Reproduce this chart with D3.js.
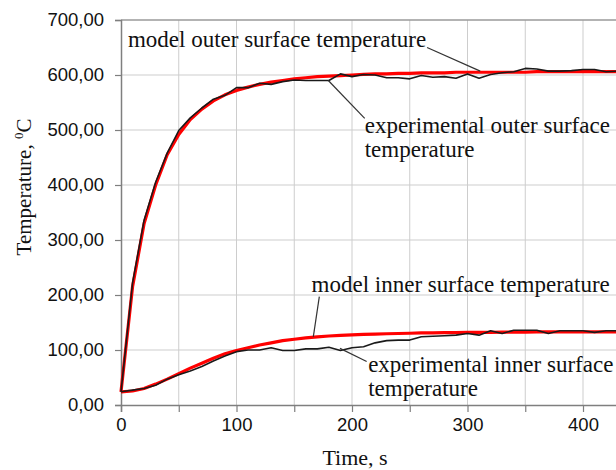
<!DOCTYPE html>
<html>

<head>
	<meta charset="utf-8">
	<title>Temperature vs time</title>
	<style>
		body {
			margin: 0;
			background: #fff;
		}

		.tick-label {
			font-family: "Liberation Sans", Arial, sans-serif;
			font-size: 18.5px;
			fill: #111;
		}

		.serif {
			font-family: "Liberation Serif", "Times New Roman", serif;
			fill: #111;
		}
	</style>
</head>

<body>
	<svg id="chart" width="616" height="470"></svg>

	<script src="https://cdn.jsdelivr.net/npm/d3@7/dist/d3.min.js"></script>
	<script>
		// time axis, s (every 10 s)
		var time = [0, 10, 20, 30, 40, 50, 60, 70, 80, 90, 100, 110, 120, 130, 140, 150, 160, 170, 180, 190,
			200, 210, 220, 230, 240, 250, 260, 270, 280, 290, 300, 310, 320, 330, 340, 350, 360, 370, 380, 390,
			400, 410, 420, 430];

		var modelOuter = [24, 215, 330, 400, 455, 492, 519, 538, 553, 564, 572, 578, 583, 587, 590, 593, 595, 597, 598, 599,
			600, 601, 602, 602, 603, 603, 604, 604, 604, 605, 605, 605, 605, 605, 605, 605, 606, 606, 606, 606,
			606, 606, 606, 606];

		var expOuter = [24, 222, 336, 405, 458, 499, 522, 540, 556, 563, 577, 577, 585, 583, 588, 591, 590, 590, 590, 602,
			597, 601, 600, 595, 595, 593, 599, 596, 597, 594, 602, 594, 601, 604, 606, 612, 611, 607, 607, 608,
			610, 610, 606, 607];

		var modelInner = [24, 25.5, 30, 38, 47, 57, 67, 76, 85, 93, 99, 104, 109, 113, 117, 119.5, 122, 124, 125.5, 126.7,
			127.5, 128.5, 129, 129.5, 130, 130.5, 131, 131, 131.5, 131.5, 132, 132, 132, 132.5, 132.5, 132.5, 133, 133, 133, 133,
			133, 133, 133, 133];

		var expInner = [24, 27, 30, 36, 47, 55, 62, 70, 80, 89, 97, 100, 100, 104, 99, 99, 102, 102, 105, 99,
			104, 106, 113, 117, 118, 118, 124, 125, 126, 127, 130, 127, 135, 130, 136, 136, 136, 130, 135, 135,
			135, 132, 135, 135];

		var yTicks = [0, 100, 200, 300, 400, 500, 600, 700];
		var xLabelTicks = [0, 100, 200, 300, 400];
		var xGridTicks = [0, 50, 100, 150, 200, 250, 300, 350, 400, 450];

		// annotations: text lines (t, T of first baseline) and leader line ends in data units
		var notes = [
			{ lines: ['model outer surface temperature'], t: 6, T: 651, from: [265, 650], to: [311, 607] },
			{ lines: ['experimental outer surface', 'temperature'], t: 211, T: 495, from: [179.5, 590], to: [211, 521] },
			{ lines: ['model inner surface temperature'], t: 165, T: 206, from: [171.7, 197], to: [166.5, 124] },
			{ lines: ['experimental inner surface', 'temperature'], t: 214, T: 60.5, from: [189.6, 103], to: [212.7, 79] }
		];

		var svg = d3.select('#chart');

		var x = d3.scaleLinear().domain([0, 450]).range([121, 640.75]);
		var y = d3.scaleLinear().domain([0, 700]).range([405, 20]);

		// grid
		svg.append('g')
			.selectAll('line')
			.data(xGridTicks.slice(1))
			.enter()
			.append('line')
			.attr('x1', function (d) { return x(d); })
			.attr('x2', function (d) { return x(d); })
			.attr('y1', y(700))
			.attr('y2', y(0))
			.style('stroke', '#cdcdcd')
			.style('stroke-width', 1);

		svg.append('g')
			.selectAll('line')
			.data(yTicks.slice(1, -1))
			.enter()
			.append('line')
			.attr('x1', x(0))
			.attr('x2', x(450))
			.attr('y1', function (d) { return y(d); })
			.attr('y2', function (d) { return y(d); })
			.style('stroke', '#cdcdcd')
			.style('stroke-width', 1);

		// top frame line
		svg.append('line')
			.attr('x1', x(0)).attr('x2', x(450))
			.attr('y1', y(700)).attr('y2', y(700))
			.style('stroke', '#9a9a9a')
			.style('stroke-width', 1.5);

		// axes
		var yAxis = d3.axisLeft(y)
			.tickValues(yTicks)
			.tickSize(6)
			.tickPadding(11)
			.tickFormat(function (d) { return d3.format('.2f')(d).replace('.', ','); });

		var gy = svg.append('g')
			.attr('transform', 'translate(' + x(0) + ',0)')
			.call(yAxis);

		var xAxis = d3.axisBottom(x)
			.tickValues(xGridTicks)
			.tickSize(7)
			.tickPadding(6)
			.tickFormat(function (d) { return xLabelTicks.indexOf(d) >= 0 ? d : ''; });

		var gx = svg.append('g')
			.attr('transform', 'translate(0,' + y(0) + ')')
			.call(xAxis);

		[gx, gy].forEach(function (g) {
			g.select('.domain').style('stroke', '#7f7f7f').style('stroke-width', 1.5);
			g.selectAll('.tick line').style('stroke', '#7f7f7f').style('stroke-width', 1.2);
			g.selectAll('.tick text').attr('class', 'tick-label').attr('fill', null);
		});

		// curves
		var line = d3.line()
			.x(function (d) { return x(d[0]); })
			.y(function (d) { return y(d[1]); });

		function pairs(values) {
			return time.map(function (t, i) { return [t, values[i]]; });
		}

		[modelOuter, modelInner].forEach(function (s) {
			svg.append('path')
				.datum(pairs(s))
				.attr('d', line)
				.style('fill', 'none')
				.style('stroke', '#ff0000')
				.style('stroke-width', 3.2)
				.style('stroke-linejoin', 'round');
		});

		[expOuter, expInner].forEach(function (s) {
			svg.append('path')
				.datum(pairs(s))
				.attr('d', line)
				.style('fill', 'none')
				.style('stroke', '#1a1a1a')
				.style('stroke-width', 1.6)
				.style('stroke-linejoin', 'round');
		});

		// annotations
		notes.forEach(function (n) {
			svg.append('line')
				.attr('x1', x(n.from[0])).attr('y1', y(n.from[1]))
				.attr('x2', x(n.to[0])).attr('y2', y(n.to[1]))
				.style('stroke', '#333')
				.style('stroke-width', 1.2);

			var txt = svg.append('text')
				.attr('class', 'serif')
				.attr('x', x(n.t))
				.attr('y', y(n.T))
				.style('font-size', '23px');

			n.lines.forEach(function (l, i) {
				txt.append('tspan')
					.attr('x', x(n.t))
					.attr('dy', i === 0 ? 0 : 24)
					.text(l);
			});
		});

		// axis titles
		var yt = svg.append('text')
			.attr('class', 'serif')
			.attr('transform', 'translate(31,187) rotate(-90)')
			.attr('text-anchor', 'middle')
			.style('font-size', '21px');
		yt.append('tspan').text('Temperature, ');
		yt.append('tspan').attr('dy', -8).style('font-size', '13px').text('0');
		yt.append('tspan').attr('dy', 8).text('C');

		svg.append('text')
			.attr('class', 'serif')
			.attr('x', 355)
			.attr('y', 465)
			.attr('text-anchor', 'middle')
			.style('font-size', '22px')
			.text('Time, s');
	</script>
</body>

</html>
